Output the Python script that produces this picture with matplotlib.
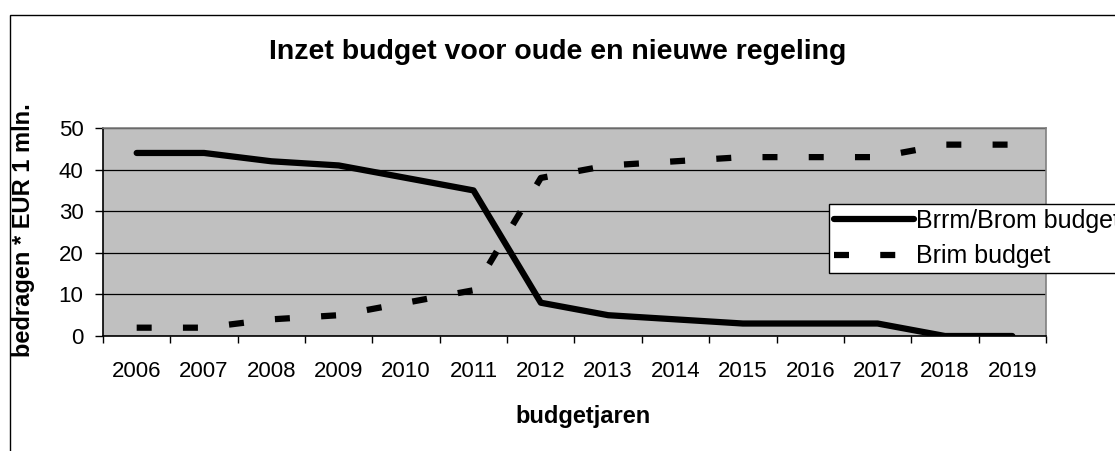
import matplotlib
matplotlib.use('Agg')
import matplotlib.pyplot as plt
from matplotlib.patches import Rectangle

plt.rcParams['font.family'] = ['Liberation Sans', 'DejaVu Sans']

# data
years = ['2006', '2007', '2008', '2009', '2010', '2011', '2012', '2013', '2014', '2015', '2016', '2017', '2018', '2019']
brrm_brom = [44, 44, 42, 41, 38, 35, 8, 5, 4, 3, 3, 3, 0, 0]
brim = [2, 2, 4, 5, 8, 11, 38, 41, 42, 43, 43, 43, 46, 46]
y_ticks = [0, 10, 20, 30, 40, 50]

W, H = 1115, 451
fig = plt.figure(figsize=(W / 100, H / 100), dpi=100)
# outer chart border (clipped at right/bottom like the original)
fig.patches.append(Rectangle((10 / W, -0.5), 2.0, 1 - 15 / H + 0.5, transform=fig.transFigure,
                             fill=False, edgecolor='black', linewidth=1.0))

ax = fig.add_axes([103 / W, 1 - 336 / H, (1046 - 103) / W, (336 - 128) / H])
ax.set_facecolor('#c0c0c0')
x = list(range(len(years)))

ax.plot(x, brrm_brom, color='black', linewidth=4.5, solid_capstyle='round', solid_joinstyle='round',
        label='Brrm/Brom budget', zorder=3)
ax.plot(x, brim, color='black', linewidth=4.5, linestyle=(0, (2.4, 5.0)), dash_capstyle='butt',
        label='Brim budget', zorder=3)

# axes
ax.set_xlim(-0.5, len(years) - 0.5)
ax.set_ylim(0, 50)
ax.set_yticks(y_ticks)
ax.set_yticklabels([str(v) for v in y_ticks], fontsize=16)
ax.set_xticks([i - 0.5 for i in range(len(years) + 1)])
ax.set_xticklabels([])
ax.set_xticks(x, minor=True)
ax.set_xticklabels(years, minor=True, fontsize=16)
ax.tick_params(axis='x', which='major', length=5, width=1, direction='out', color='black')
ax.tick_params(axis='x', which='minor', length=0, pad=18)
ax.tick_params(axis='y', length=6, width=1, direction='out', pad=8)
ax.yaxis.grid(True, color='black', linewidth=0.9)
ax.set_axisbelow(True)
for s in ['top', 'right']:
    ax.spines[s].set_color('#808080')
    ax.spines[s].set_linewidth(1.2)
for s in ['left', 'bottom']:
    ax.spines[s].set_color('black')
    ax.spines[s].set_linewidth(1.2)

fig.text(583 / W, 1 - 417 / H, 'budgetjaren', fontsize=17, fontweight='bold', ha='center', va='center')
fig.text(24 / W, 1 - 230 / H, 'bedragen * EUR 1 mln.', rotation=90, fontsize=17, fontweight='bold',
         ha='center', va='center')
fig.text(558 / W, 1 - 52 / H, 'Inzet budget voor oude en nieuwe regeling', fontsize=20.5,
         fontweight='bold', ha='center', va='center')

leg = ax.legend(loc='upper left', bbox_to_anchor=(829 / W, 1 - 204 / H), bbox_transform=fig.transFigure,
                fontsize=18, frameon=True, fancybox=False, edgecolor='black', framealpha=1.0,
                borderpad=0.2, handlelength=3.2, handletextpad=0.1, labelspacing=0.45, borderaxespad=0)
leg.get_frame().set_linewidth(1.0)

fig.savefig('out.png', dpi=100)
